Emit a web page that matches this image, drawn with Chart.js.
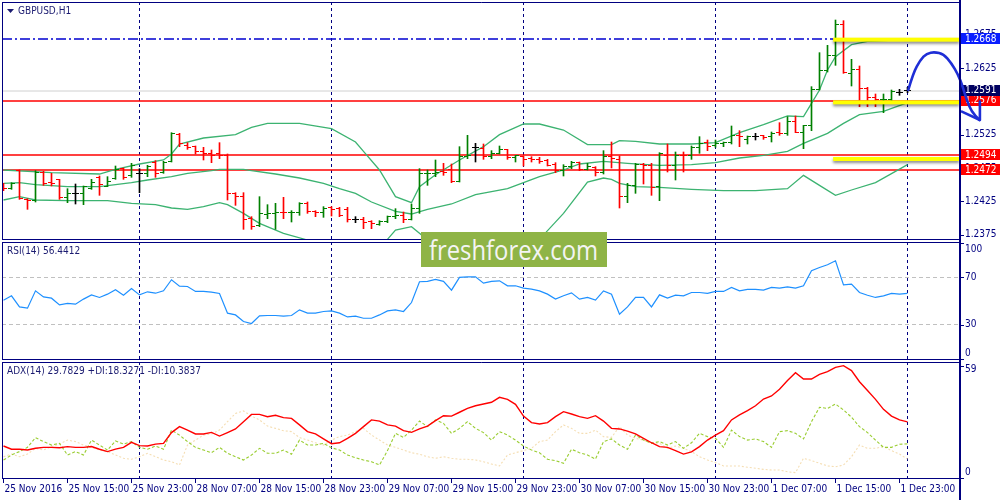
<!DOCTYPE html>
<html><head><meta charset="utf-8">
<script src="https://cdn.jsdelivr.net/npm/chart.js@4.4.1/dist/chart.umd.min.js"></script>
<style>
html,body{margin:0;padding:0;background:#fff}
body{width:1000px;height:500px;position:relative;overflow:hidden}
canvas{position:absolute;left:0}
#wm{position:absolute;left:421px;top:232px;width:186px;height:35px;background:#8fb446;overflow:hidden;z-index:5}
#wmt{position:absolute;left:8px;top:0;color:#f4f4f4;font-size:27px;line-height:35px;font-family:'Open Sans',sans-serif;white-space:nowrap;transform-origin:0 0}
</style></head><body>
<canvas id="cMain" width="1000" height="241" style="top:0"></canvas>
<canvas id="cRsi" width="1000" height="120" style="top:241px"></canvas>
<canvas id="cAdx" width="1000" height="139" style="top:361px"></canvas>
<div id="wm"><span id="wmt">freshforex.com</span></div>
<script>
// ---------------- DATA ----------------
const symbolTitle = 'GBPUSD,H1';
const rsiTitle = 'RSI(14) 56.4412';
const adxTitle = 'ADX(14) 29.7829 +DI:18.3271 -DI:10.3837';
const tickLabels = ['25 Nov 2016','25 Nov 15:00','25 Nov 23:00','28 Nov 07:00','28 Nov 15:00','28 Nov 23:00','29 Nov 07:00','29 Nov 15:00','29 Nov 23:00','30 Nov 07:00','30 Nov 15:00','30 Nov 23:00','1 Dec 07:00','1 Dec 15:00','1 Dec 23:00'];
const tickIdx = [0,8,16,24,32,40,48,56,64,72,80,88,96,104,112];
const dayIdx = [17,41,65,89,113];
const priceTicks = [1.2375,1.2425,1.2475,1.2525,1.2575,1.2625,1.2675];

const opens = [1.2447,1.2444,1.2471,1.2428,1.2427,1.2469,1.2453,1.2457,1.2430,1.2436,
1.2436,1.2444,1.2461,1.2448,1.2459,1.2474,1.2463,1.2467,1.2467,1.2483,
1.2469,1.2484,1.2526,1.2509,1.2507,1.2499,1.2497,1.2496,1.2494,1.2436,
1.2432,1.2399,1.2389,1.2405,1.2407,1.2409,1.2408,1.2409,1.2421,1.2410,
1.2408,1.2416,1.2414,1.2413,1.2397,1.2397,1.2394,1.2390,1.2395,1.2402,
1.2404,1.2397,1.2414,1.2466,1.2466,1.2470,1.2472,1.2454,1.2492,1.2505,
1.2504,1.2492,1.2497,1.2502,1.2491,1.2492,1.2489,1.2488,1.2486,1.2480,
1.2471,1.2477,1.2483,1.2473,1.2476,1.2469,1.2492,1.2488,1.2432,1.2449,
1.2480,1.2479,1.2447,1.2494,1.2478,1.2494,1.2493,1.2505,1.2513,1.2509,
1.2511,1.2513,1.2524,1.2518,1.2522,1.2523,1.2522,1.2529,1.2527,1.2544,
1.2529,1.2538,1.2593,1.2621,1.2644,1.2691,1.2616,1.2622,1.2594,1.2581,
1.2577,1.2578,1.2588,1.2591];
const highs = [1.2452,1.2453,1.2472,1.2429,1.2471,1.2470,1.2467,1.2458,1.2444,1.2451,
1.2448,1.2458,1.2463,1.2462,1.2478,1.2475,1.2482,1.2474,1.2479,1.2486,
1.2485,1.2528,1.2527,1.2513,1.2508,1.2506,1.2502,1.2513,1.2496,1.2438,
1.2438,1.2402,1.2432,1.2420,1.2422,1.2431,1.2411,1.2423,1.2424,1.2411,
1.2417,1.2417,1.2416,1.2416,1.2402,1.2401,1.2396,1.2396,1.2403,1.2414,
1.2409,1.2421,1.2474,1.2472,1.2487,1.2482,1.2481,1.2507,1.2524,1.2512,
1.2511,1.2501,1.2508,1.2503,1.2494,1.2493,1.2492,1.2491,1.2488,1.2483,
1.2480,1.2485,1.2484,1.2482,1.2477,1.2501,1.2514,1.2493,1.2452,1.2482,
1.2482,1.2482,1.2498,1.2511,1.2499,1.2499,1.2508,1.2522,1.2517,1.2517,
1.2514,1.2538,1.2531,1.2523,1.2527,1.2524,1.2529,1.2543,1.2552,1.2553,
1.2539,1.2597,1.2648,1.2659,1.2697,1.2696,1.2638,1.2628,1.2596,1.2586,
1.2586,1.2592,1.2593,1.2596];
const lows = [1.2441,1.2443,1.2428,1.2413,1.2424,1.2449,1.2448,1.2428,1.2423,1.2421,
1.2420,1.2443,1.2434,1.2447,1.2458,1.2458,1.2461,1.2438,1.2462,1.2461,
1.2467,1.2484,1.2507,1.2503,1.2496,1.2487,1.2483,1.2489,1.2427,1.2419,
1.2383,1.2383,1.2387,1.2399,1.2383,1.2399,1.2394,1.2404,1.2407,1.2402,
1.2401,1.2403,1.2402,1.2394,1.2393,1.2384,1.2384,1.2389,1.2393,1.2399,
1.2393,1.2397,1.2407,1.2449,1.2462,1.2464,1.2453,1.2454,1.2489,1.2484,
1.2488,1.2489,1.2496,1.2488,1.2484,1.2478,1.2484,1.2482,1.2478,1.2468,
1.2463,1.2474,1.2471,1.2472,1.2463,1.2466,1.2475,1.2415,1.2423,1.2437,
1.2451,1.2434,1.2426,1.2469,1.2457,1.2469,1.2488,1.2497,1.2501,1.2506,
1.2507,1.2511,1.2507,1.2511,1.2517,1.2518,1.2514,1.2524,1.2524,1.2528,
1.2504,1.2531,1.2592,1.2619,1.2629,1.2617,1.2598,1.2567,1.2567,1.2567,
1.2558,1.2574,1.2584,1.2588];
const closes = [1.2444,1.2452,1.2429,1.2427,1.2469,1.2451,1.2451,1.2431,1.2437,1.2436,
1.2447,1.2453,1.2450,1.2454,1.2472,1.2461,1.2478,1.2467,1.2477,1.2467,
1.2483,1.2527,1.2511,1.2506,1.2499,1.2497,1.2494,1.2494,1.2437,1.2432,
1.2398,1.2388,1.2407,1.2407,1.2408,1.2408,1.2409,1.2421,1.2410,1.2408,
1.2414,1.2413,1.2404,1.2397,1.2397,1.2393,1.2392,1.2395,1.2402,1.2404,
1.2397,1.2414,1.2467,1.2467,1.2469,1.2468,1.2454,1.2492,1.2494,1.2505,
1.2492,1.2497,1.2502,1.2491,1.2493,1.2488,1.2488,1.2485,1.2479,1.2471,
1.2477,1.2483,1.2472,1.2477,1.2469,1.2492,1.2489,1.2432,1.2449,1.2480,
1.2479,1.2446,1.2496,1.2479,1.2493,1.2493,1.2506,1.2511,1.2507,1.2511,
1.2513,1.2524,1.2522,1.2522,1.2522,1.2520,1.2527,1.2527,1.2544,1.2528,
1.2538,1.2592,1.2621,1.2644,1.2691,1.2618,1.2623,1.2594,1.2581,1.2578,
1.2578,1.2590,1.2588,1.2591];

// Bollinger bands, read at their turning points
const bbUpperX = [0,6,12,14,17,20,21,22,25,29,31,33,37,41,44,45,47,49,51,52,54,57,60,62,65,67,70,73,76,77,79,82,86,89,92,95,98,100,101,102,103,104,106,108,110,113];
const bbUpperY = [1.2472,1.2468,1.2466,1.2473,1.2481,1.2487,1.2496,1.2511,1.2520,1.2525,1.2536,1.2542,1.2542,1.2534,1.2514,1.2500,1.2472,1.2432,1.2423,1.2447,1.2465,1.2487,1.2507,1.2525,1.2541,1.2541,1.2532,1.2510,1.2510,1.2516,1.2515,1.2511,1.2511,1.2513,1.2528,1.2540,1.2553,1.2552,1.2572,1.2592,1.2622,1.2642,1.2660,1.2665,1.2666,1.2668];
const bbMidX = [0,2,4,8,12,14,16,18,21,23,26,27,30,31,34,37,40,42,44,46,49,51,53,56,59,63,65,67,70,72,75,78,82,86,89,92,95,98,100,103,105,107,110,113];
const bbMidY = [1.2452,1.2453,1.2450,1.2447,1.2447,1.2450,1.2453,1.2457,1.2462,1.2467,1.2471,1.2473,1.2473,1.2471,1.2466,1.2460,1.2452,1.2444,1.2437,1.2424,1.2410,1.2406,1.2413,1.2421,1.2435,1.2444,1.2453,1.2462,1.2472,1.2481,1.2485,1.2482,1.2479,1.2480,1.2483,1.2490,1.2494,1.2500,1.2512,1.2527,1.2542,1.2555,1.2560,1.2573];
const bbLowerX = [0,2,4,8,13,16,19,21,23,25,27,28,30,32,35,38,42,46,48,49,51,52,53,58,63,67,70,73,75,76,77,79,82,86,90,94,98,100,102,104,106,109,113];
const bbLowerY = [1.2427,1.2432,1.2427,1.2426,1.2426,1.2422,1.2420,1.2415,1.2413,1.2417,1.2423,1.2420,1.2407,1.2392,1.2377,1.2367,1.2347,1.2357,1.2368,1.2382,1.2387,1.2377,1.2367,1.2332,1.2347,1.2368,1.2407,1.2454,1.2460,1.2458,1.2452,1.2447,1.2446,1.2443,1.2441,1.2441,1.2444,1.2464,1.2449,1.2434,1.2442,1.2453,1.2480];

// levels and drawing objects
const redLevels = [1.2576,1.2494,1.2472];
const blueLevel = 1.2668;
const bidLevel = 1.2591;
const yellowLevels = [1.26675,1.25735,1.24885];
const yellowStart = 103.7;
const arrowX = [113.1,113.7,114.6,115.4,116.4,117.5,118.5,119.35,119.9,120.4,121.0,122.0];
const arrowP = [1.2592,1.2617,1.2637,1.2647,1.2649,1.2646,1.2632,1.26145,1.2597,1.2577,1.25595,1.2547];
const arrowHeadX = [119.8,122.05,122.05];
const arrowHeadP = [1.25595,1.2547,1.25745];

// RSI(14)
const rsi = [50.7,54.4,45.0,43.9,58.6,53.5,52.4,46.7,47.9,47.3,
51.6,55.2,53.0,55.8,59.5,54.9,60.6,55.2,57.8,56.6,
58.6,68.0,62.6,62.3,58.1,58.1,57.5,56.4,39.7,38.2,
32.6,30.9,37.4,37.7,37.7,37.1,37.7,42.5,39.7,39.7,
41.1,41.6,39.7,36.5,37.1,35.4,35.4,38.2,41.6,42.5,
41.1,48.7,66.3,66.6,68.3,66.6,59.2,70.0,70.5,70.5,
65.1,66.6,67.1,62.9,62.9,60.9,60.0,58.6,55.8,51.6,
54.4,56.9,51.6,53.0,50.7,58.6,55.8,38.8,45.0,53.0,
53.0,45.0,55.2,52.4,54.9,54.4,57.2,57.2,56.4,58.1,
58.1,61.5,58.6,59.8,59.8,59.2,61.5,60.9,62.0,60.9,
62.9,75.6,78.4,80.7,84.1,63.7,64.3,57.2,54.9,53.0,
54.4,56.4,55.8,56.4];
const rsiTicks = [0,30,70,100];
const rsiLevels = [30,70];

// ADX(14)
const adx = [17.2,15.5,15.5,15.1,16.0,16.5,16.5,16.3,16.9,16.5,
16.5,16.9,15.5,14.3,15.6,16.5,19.1,17.4,17.2,18.2,
18.6,24.2,27.3,25.5,23.5,23.5,24.3,22.4,24.2,26.1,
29.9,33.7,33.7,32.5,33.2,32.0,31.6,28.2,24.7,23.5,
20.9,18.4,18.9,21.2,23.8,27.3,30.8,30.2,28.2,27.6,
25.2,24.3,26.1,27.6,30.4,33.0,32.8,34.8,36.8,38.2,
39.1,40.0,42.6,41.5,38.9,32.8,29.4,28.7,29.4,32.5,
35.1,33.9,32.5,31.6,33.0,30.2,26.4,26.1,25.0,23.5,
21.2,18.9,16.9,16.5,14.8,13.0,14.1,16.9,20.3,22.9,
25.2,30.8,33.4,35.6,38.2,41.7,43.3,46.8,51.3,55.4,
52.1,52.1,54.6,56.0,58.2,59.1,56.5,50.7,46.1,41.5,
36.3,32.8,30.8,29.8];
const plusDI = [9.9,12.5,14.3,16.5,21.6,19.5,17.7,18.6,12.5,14.3,
12.5,20.3,17.7,15.1,19.8,18.2,19.5,16.5,15.5,17.2,
15.5,25.5,22.9,19.5,16.5,15.1,13.7,16.5,13.4,11.6,
9.9,12.5,16.0,13.4,13.4,15.1,12.9,20.3,17.7,17.7,
18.6,16.3,15.1,12.5,11.1,9.9,9.0,7.3,14.8,23.8,
21.7,25.5,30.2,27.3,30.8,29.0,23.8,26.4,29.9,26.4,
24.2,20.3,24.7,22.9,20.3,17.2,15.1,13.7,10.3,9.6,
8.2,15.5,13.7,12.5,10.4,19.5,20.9,17.7,15.5,22.9,
20.3,18.6,19.5,17.7,19.5,16.0,18.9,23.8,22.1,21.2,
16.5,25.5,22.1,20.3,20.9,19.5,16.5,24.7,25.2,23.8,
20.9,29.9,37.4,36.8,39.1,36.0,32.2,27.3,24.2,20.3,
16.5,16.5,18.1,18.3];
const minusDI = [11.6,13.0,11.6,13.0,16.0,15.1,16.9,18.2,20.3,19.5,
17.7,16.5,15.1,14.3,12.5,10.8,10.3,11.6,13.4,11.6,
9.9,9.0,7.3,17.7,20.3,22.9,23.5,25.5,29.9,34.2,
35.5,32.8,30.8,27.6,26.4,25.2,24.7,21.6,20.3,18.9,
17.7,20.3,22.1,22.9,24.7,26.4,22.9,20.3,17.7,16.5,
15.1,13.7,12.9,11.6,10.8,11.6,10.8,10.3,10.3,9.9,
9.0,7.8,6.8,12.5,13.7,14.8,16.0,19.5,20.3,24.7,
28.2,26.4,23.8,23.8,25.5,22.1,21.7,27.3,22.9,21.2,
20.3,18.6,18.6,16.0,17.2,16.0,14.3,11.6,9.9,8.5,
6.8,6.8,6.8,6.1,5.6,5.0,4.7,4.7,3.8,3.3,
10.8,9.6,8.2,6.8,6.4,7.3,11.6,17.7,16.0,16.0,
16.9,14.8,13.0,10.4];
const adxTicks = [0,59];

// ---------------- STYLE ----------------
const NAVY = '#000080';
const FONT = "10px 'DejaVu Sans Condensed','DejaVu Sans',sans-serif";
const XMIN = -0.1875, XMAX = 119.5625;

function barColor(i){ return closes[i] > opens[i] ? '#008000' : (closes[i] < opens[i] ? '#ff0000' : '#000000'); }
const pts = (xs, ys) => xs.map((x, k) => ({x: x, y: ys[k]}));
const seq = arr => arr.map((v, i) => ({x: i, y: v}));

function baseOptions(ymin, ymax, padTop, padBottom){
  return {
    responsive: false, animation: false, devicePixelRatio: 1, events: [],
    layout: {padding: {left: 2, right: 40, top: padTop, bottom: padBottom}},
    plugins: {legend: {display: false}, tooltip: {enabled: false}},
    scales: {
      x: {type: 'linear', min: XMIN, max: XMAX, display: false, offset: false},
      y: {type: 'linear', min: ymin, max: ymax, display: false}
    }
  };
}

function drawGrid(chart){
  const ctx = chart.ctx, ca = chart.chartArea, xs = chart.scales.x;
  ctx.save();
  ctx.strokeStyle = NAVY; ctx.lineWidth = 1; ctx.setLineDash([3,3]);
  dayIdx.forEach(d => {
    const x = Math.round(xs.getPixelForValue(d) - 0.5) + 0.5;
    ctx.beginPath(); ctx.moveTo(x, ca.top); ctx.lineTo(x, ca.bottom); ctx.stroke();
  });
  ctx.restore();
}
function drawFrame(chart){
  const ctx = chart.ctx, ca = chart.chartArea;
  ctx.save();
  ctx.strokeStyle = NAVY; ctx.lineWidth = 1; ctx.setLineDash([]);
  ctx.beginPath();
  ctx.moveTo(ca.left + 0.5, ca.top + 0.5); ctx.lineTo(ca.right, ca.top + 0.5);
  ctx.moveTo(ca.left + 0.5, ca.top); ctx.lineTo(ca.left + 0.5, ca.bottom);
  ctx.moveTo(ca.left, ca.bottom - 0.5); ctx.lineTo(ca.right, ca.bottom - 0.5);
  ctx.stroke();
  ctx.lineWidth = 2;
  ctx.beginPath(); ctx.moveTo(ca.right, 0); ctx.lineTo(ca.right, chart.height); ctx.stroke();
  ctx.restore();
}
function drawRightTicks(chart, values, fmt, clampPad){
  const ctx = chart.ctx, ca = chart.chartArea, ys = chart.scales.y;
  ctx.save();
  ctx.fillStyle = NAVY; ctx.strokeStyle = NAVY; ctx.lineWidth = 1;
  ctx.font = FONT; ctx.textBaseline = 'middle'; ctx.textAlign = 'left';
  values.forEach(v => {
    const y = ys.getPixelForValue(v);
    const yl = Math.min(Math.max(y, ca.top + clampPad), ca.bottom - clampPad);
    const yt = Math.round(Math.min(Math.max(y, ca.top + 1), ca.bottom - 1)) + 0.5;
    ctx.beginPath(); ctx.moveTo(ca.right, yt); ctx.lineTo(ca.right + 4, yt); ctx.stroke();
    ctx.fillText(fmt(v), ca.right + 5, yl);
  });
  ctx.restore();
}
function drawTitle(chart, text, triangle){
  const ctx = chart.ctx, ca = chart.chartArea;
  ctx.save();
  ctx.fillStyle = '#1a1a70'; ctx.font = FONT; ctx.textBaseline = 'middle'; ctx.textAlign = 'left';
  let x = ca.left + 5;
  if (triangle){
    ctx.beginPath(); ctx.moveTo(x, ca.top + 7); ctx.lineTo(x + 7, ca.top + 7); ctx.lineTo(x + 3.5, ca.top + 11); ctx.closePath(); ctx.fill();
    x += 11;
  }
  ctx.fillText(text, x, ca.top + 9);
  ctx.restore();
}

// ---------------- MAIN PRICE CHART ----------------
const mainPlugin = {
  id: 'mainDecor',
  beforeDatasetsDraw(chart){
    const ctx = chart.ctx, ca = chart.chartArea, ys = chart.scales.y;
    drawGrid(chart);
    ctx.save();
    const hline = (p, color, dash, lw) => {
      const y = Math.round(ys.getPixelForValue(p));
      ctx.strokeStyle = color; ctx.lineWidth = lw; ctx.setLineDash(dash);
      ctx.beginPath(); ctx.moveTo(ca.left, y); ctx.lineTo(ca.right, y); ctx.stroke();
    };
    hline(bidLevel, '#d0d0d0', [], 1);
    redLevels.forEach(p => hline(p, '#ff0000', [], 1.5));
    hline(blueLevel, '#0000d0', [10,3,2,3], 1.5);
    ctx.restore();
  },
  afterDatasetsDraw(chart){
    const ctx = chart.ctx, ca = chart.chartArea, xs = chart.scales.x, ys = chart.scales.y;
    // open / close ticks of the OHLC bars
    ctx.save();
    ctx.beginPath(); ctx.rect(ca.left, ca.top, ca.right - ca.left, ca.bottom - ca.top); ctx.clip();
    opens.forEach((o, i) => {
      const x0 = Math.round(xs.getPixelForValue(i) - 0.5);
      ctx.fillStyle = barColor(i);
      ctx.fillRect(x0 - 3, Math.floor(ys.getPixelForValue(o)), 3, 1);
      ctx.fillRect(x0 + 1, Math.floor(ys.getPixelForValue(closes[i])), 3, 1);
    });
    ctx.restore();
    // yellow highlight segments
    ctx.save();
    ctx.shadowColor = 'rgba(0,0,0,0.45)'; ctx.shadowBlur = 3; ctx.shadowOffsetY = 2;
    ctx.fillStyle = '#ffff00';
    yellowLevels.forEach(p => {
      const y = ys.getPixelForValue(p);
      const x1 = xs.getPixelForValue(yellowStart);
      ctx.fillRect(x1, y - 2, ca.right - x1 - 1, 4);
    });
    ctx.restore();
    // right price axis
    drawRightTicks(chart, priceTicks, v => v.toFixed(4), 0);
    // price label boxes
    ctx.save();
    ctx.font = FONT; ctx.textBaseline = 'middle'; ctx.textAlign = 'left';
    const box = (p, bg) => {
      const y = ys.getPixelForValue(p);
      ctx.fillStyle = bg; ctx.fillRect(ca.right + 1, Math.round(y) - 6, 39, 11);
      ctx.fillStyle = '#ffffff'; ctx.fillText(p.toFixed(4), ca.right + 5, y);
    };
    box(blueLevel, '#0a1eff');
    redLevels.forEach(p => box(p, '#ff0000'));
    box(bidLevel, '#000060');
    ctx.restore();
    // hand-drawn arrow
    ctx.save();
    ctx.strokeStyle = '#1e2ed6'; ctx.lineWidth = 2.6; ctx.lineJoin = 'round'; ctx.lineCap = 'round';
    const P = arrowX.map((x, k) => [xs.getPixelForValue(x), ys.getPixelForValue(arrowP[k])]);
    ctx.beginPath(); ctx.moveTo(P[0][0], P[0][1]);
    for (let k = 1; k < P.length - 1; k++){
      const mx = (P[k][0] + P[k+1][0]) / 2, my = (P[k][1] + P[k+1][1]) / 2;
      ctx.quadraticCurveTo(P[k][0], P[k][1], mx, my);
    }
    ctx.lineTo(P[P.length-1][0], P[P.length-1][1]);
    ctx.stroke();
    const H = arrowHeadX.map((x, k) => [xs.getPixelForValue(x), ys.getPixelForValue(arrowHeadP[k])]);
    ctx.beginPath(); ctx.moveTo(H[0][0], H[0][1]); ctx.lineTo(H[1][0], H[1][1]); ctx.lineTo(H[2][0], H[2][1]); ctx.stroke();
    ctx.restore();
    drawFrame(chart);
    drawTitle(chart, symbolTitle, true);
  }
};

new Chart(document.getElementById('cMain'), {
  type: 'bar',
  data: {
    datasets: [
      {type: 'bar', data: opens.map((o, i) => ({x: i, y: [lows[i], highs[i]]})),
       backgroundColor: opens.map((o, i) => barColor(i)), borderWidth: 0, barThickness: 1, grouped: false, order: 0},
      {type: 'line', data: pts(bbUpperX, bbUpperY), borderColor: '#3cb371', borderWidth: 1.3, pointRadius: 0, tension: 0, order: 1},
      {type: 'line', data: pts(bbMidX, bbMidY), borderColor: '#3cb371', borderWidth: 1.3, pointRadius: 0, tension: 0, order: 1},
      {type: 'line', data: pts(bbLowerX, bbLowerY), borderColor: '#3cb371', borderWidth: 1.3, pointRadius: 0, tension: 0, order: 1}
    ]
  },
  options: baseOptions(1.2367, 1.2724, 2, 1),
  plugins: [mainPlugin]
});

// ---------------- RSI ----------------
const rsiPlugin = {
  id: 'rsiDecor',
  beforeDatasetsDraw(chart){
    const ctx = chart.ctx, ca = chart.chartArea, ys = chart.scales.y;
    drawGrid(chart);
    ctx.save();
    ctx.strokeStyle = '#c0c0c0'; ctx.lineWidth = 1; ctx.setLineDash([4,3]);
    rsiLevels.forEach(v => {
      const y = Math.round(ys.getPixelForValue(v) - 0.5) + 0.5;
      ctx.beginPath(); ctx.moveTo(ca.left, y); ctx.lineTo(ca.right, y); ctx.stroke();
    });
    ctx.restore();
  },
  afterDatasetsDraw(chart){
    drawRightTicks(chart, rsiTicks, v => String(v), 7);
    drawFrame(chart);
    drawTitle(chart, rsiTitle, false);
  }
};
new Chart(document.getElementById('cRsi'), {
  type: 'line',
  data: {datasets: [{data: seq(rsi), borderColor: '#1e90ff', borderWidth: 1.2, pointRadius: 0, tension: 0}]},
  options: baseOptions(0, 100, 1, 1),
  plugins: [rsiPlugin]
});

// ---------------- ADX ----------------
const adxPlugin = {
  id: 'adxDecor',
  beforeDatasetsDraw(chart){ drawGrid(chart); },
  afterDatasetsDraw(chart){
    const ctx = chart.ctx, ca = chart.chartArea, xs = chart.scales.x;
    drawRightTicks(chart, adxTicks, v => String(v), 7);
    drawFrame(chart);
    drawTitle(chart, adxTitle, false);
    ctx.save();
    ctx.strokeStyle = NAVY; ctx.fillStyle = NAVY; ctx.lineWidth = 1;
    ctx.font = FONT; ctx.textBaseline = 'middle'; ctx.textAlign = 'left';
    tickIdx.forEach((idx, k) => {
      const x = Math.round(xs.getPixelForValue(idx) - 0.5) + 0.5;
      ctx.beginPath(); ctx.moveTo(x, ca.bottom); ctx.lineTo(x, ca.bottom + 4); ctx.stroke();
      ctx.fillText(tickLabels[k], x + 1, ca.bottom + 10);
    });
    ctx.restore();
  }
};
new Chart(document.getElementById('cAdx'), {
  type: 'line',
  data: {datasets: [
    {data: seq(adx), borderColor: '#ff0000', borderWidth: 1.4, pointRadius: 0, tension: 0, order: 0},
    {data: seq(plusDI), borderColor: '#9acd32', borderWidth: 1.1, borderDash: [3,2], pointRadius: 0, tension: 0, order: 1},
    {data: seq(minusDI), borderColor: '#f5deb3', borderWidth: 1.1, borderDash: [2,2], pointRadius: 0, tension: 0, order: 2}
  ]},
  options: baseOptions(0, 61, 1, 21),
  plugins: [adxPlugin]
});

// watermark fit
(function(){
  const s = document.getElementById('wmt');
  const w = s.getBoundingClientRect().width;
  if (w > 0) s.style.transform = 'scaleX(' + (169 / w) + ')';
})();
</script>
</body></html>
